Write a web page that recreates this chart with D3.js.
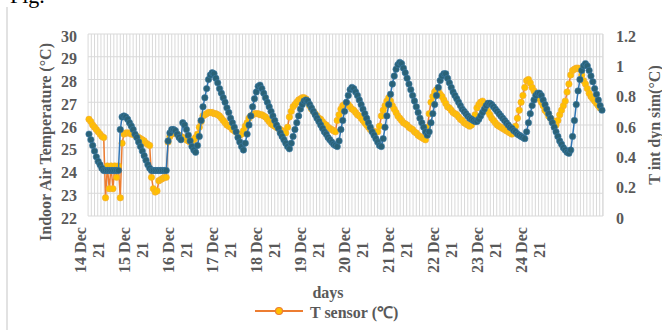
<!DOCTYPE html>
<html>
<head>
<meta charset="utf-8">
<script src="https://cdn.jsdelivr.net/npm/d3@7"></script>
<style>
  body { margin: 0; background: #fff; }
  svg { display: block; }
  text { font-family: "Liberation Serif", "Times New Roman", serif; font-weight: bold; fill: #595959; }
</style>
</head>
<body>
<div id="chart"></div>
<script>
// hourly readings, 14 Dec 00:00 onwards
const dayLabels = ["14 Dec", "15 Dec", "16 Dec", "17 Dec", "18 Dec", "19 Dec", "20 Dec", "21 Dec", "22 Dec", "23 Dec", "24 Dec"];
const yearLabel = "21";
const leftTicks = [22, 23, 24, 25, 26, 27, 28, 29, 30];
const rightTicks = [0, 0.2, 0.4, 0.6, 0.8, 1, 1.2];

// T sensor (°C), left axis
const sensor14 = [26.25,26.15,26.0,25.9,25.8,25.7,25.6,25.5,25.45,22.8,24.2,23.2,24.2,23.2,24.2,23.7,24.2,22.8,25.2,25.6,25.65,25.65,25.65,25.6];
const sensor15 = [25.6,25.55,25.5,25.45,25.4,25.35,25.3,25.2,25.15,25.1,23.7,23.2,23.05,23.1,23.55,23.6,23.65,23.7,23.7,25.25,25.5,25.6,25.65,25.65];
const sensor16 = [25.6,25.55,25.5,25.45,25.4,25.35,25.3,25.25,25.3,25.35,25.45,25.6,25.9,26.15,26.4,26.45,26.5,26.55,26.55,26.55,26.5,26.5,26.45,26.4];
const sensor17 = [26.3,26.2,26.1,26.0,25.95,25.9,25.8,25.75,25.7,25.6,25.55,25.6,25.75,25.95,26.1,26.3,26.4,26.45,26.5,26.5,26.5,26.45,26.45,26.4];
const sensor18 = [26.35,26.25,26.15,26.05,26.0,25.95,25.9,25.85,25.8,25.75,25.7,25.65,25.9,26.35,26.6,26.8,26.9,27.0,27.1,27.15,27.2,27.2,27.15,27.0];
const sensor19 = [26.85,26.7,26.6,26.5,26.4,26.3,26.25,26.15,26.05,26.0,25.9,25.85,25.8,25.75,25.7,26.2,26.45,26.7,26.85,26.9,26.95,26.9,26.8,26.7];
const sensor20 = [26.65,26.55,26.45,26.4,26.3,26.2,26.1,26.0,25.9,25.8,25.75,25.7,25.7,25.7,25.95,26.4,26.65,26.85,27.05,27.2,27.05,26.85,26.7,26.55];
const sensor21 = [26.4,26.3,26.2,26.1,26.05,26.0,25.9,25.85,25.8,25.7,25.65,25.55,25.5,25.45,25.4,25.35,25.9,26.5,27.0,27.25,27.45,27.55,27.5,27.35];
const sensor22 = [27.25,27.1,26.95,26.8,26.75,26.65,26.55,26.5,26.45,26.35,26.25,26.2,26.1,26.05,26.0,25.95,26.0,26.25,26.45,26.75,26.9,27.0,27.05,26.95];
const sensor23 = [26.8,26.6,26.45,26.3,26.2,26.1,26.0,25.95,25.9,25.85,25.8,25.75,25.7,25.65,25.6,25.7,25.95,26.3,26.65,27.0,27.3,27.65,27.95,28.0];
const sensor24 = [27.85,27.65,27.5,27.4,27.25,27.15,27.0,26.85,26.65,26.55,26.4,26.3,26.2,26.1,26.0,26.2,26.45,26.65,26.85,27.05,27.45,27.8,28.2,28.4];
const sensor25 = [28.45,28.5,28.5,28.45,28.2,27.95,27.8,27.6,27.4,27.25,27.15,27.05,26.95,26.85,26.75];

// T int dyn sim, right axis
const sim14 = [0.54,0.503,0.465,0.428,0.39,0.36,0.338,0.315,0.30,0.30,0.30,0.30,0.30,0.30,0.30,0.30,0.30,0.57,0.653,0.66,0.653,0.638,0.615,0.593];
const sim15 = [0.57,0.54,0.518,0.488,0.458,0.428,0.398,0.368,0.338,0.315,0.30,0.30,0.30,0.30,0.30,0.30,0.30,0.30,0.30,0.495,0.548,0.57,0.57,0.563];
const sim16 = [0.54,0.518,0.503,0.615,0.60,0.57,0.533,0.495,0.458,0.435,0.42,0.465,0.525,0.63,0.72,0.78,0.84,0.90,0.93,0.945,0.938,0.908,0.878,0.84];
const sim17 = [0.81,0.78,0.75,0.713,0.683,0.645,0.615,0.585,0.555,0.518,0.488,0.458,0.435,0.48,0.54,0.60,0.66,0.72,0.773,0.818,0.855,0.863,0.84,0.81];
const sim18 = [0.78,0.75,0.72,0.69,0.66,0.63,0.60,0.578,0.548,0.525,0.503,0.48,0.458,0.443,0.48,0.525,0.57,0.615,0.66,0.705,0.735,0.758,0.765,0.758];
const sim19 = [0.735,0.713,0.69,0.668,0.645,0.623,0.60,0.578,0.555,0.54,0.518,0.503,0.488,0.473,0.465,0.458,0.495,0.57,0.63,0.69,0.75,0.795,0.833,0.848];
const sim20 = [0.84,0.818,0.795,0.765,0.735,0.705,0.675,0.645,0.615,0.585,0.555,0.533,0.51,0.488,0.465,0.458,0.51,0.585,0.66,0.735,0.803,0.87,0.923,0.968];
const sim21 = [0.998,1.013,1.005,0.975,0.945,0.908,0.87,0.833,0.795,0.758,0.72,0.683,0.645,0.615,0.585,0.555,0.533,0.555,0.615,0.675,0.735,0.795,0.848,0.893];
const sim22 = [0.923,0.938,0.938,0.908,0.878,0.848,0.818,0.795,0.773,0.75,0.728,0.705,0.69,0.675,0.66,0.645,0.638,0.63,0.623,0.623,0.638,0.66,0.683,0.705];
const sim23 = [0.728,0.743,0.743,0.735,0.72,0.705,0.69,0.675,0.66,0.645,0.63,0.615,0.60,0.585,0.578,0.563,0.555,0.54,0.533,0.525,0.518,0.51,0.555,0.615];
const sim24 = [0.675,0.728,0.765,0.795,0.81,0.81,0.795,0.765,0.735,0.705,0.675,0.645,0.615,0.585,0.555,0.525,0.495,0.473,0.45,0.435,0.42,0.413,0.435,0.525];
const sim25 = [0.63,0.735,0.825,0.90,0.96,0.99,1.005,0.99,0.96,0.923,0.885,0.84,0.803,0.765,0.728,0.698];

const sensor = [].concat(sensor14, sensor15, sensor16, sensor17, sensor18, sensor19, sensor20, sensor21, sensor22, sensor23, sensor24, sensor25);
const sim = [].concat(sim14, sim15, sim16, sim17, sim18, sim19, sim20, sim21, sim22, sim23, sim24, sim25);

const W = 662, H = 330;
const plotLeft = 89, plotRight = 602, plotTop = 34, plotBottom = 216;

const svg = d3.select("#chart").append("svg")
    .attr("width", W)
    .attr("height", H);

// outer chart border (only the left edge is in frame)
svg.append("line")
    .attr("x1", 7).attr("x2", 7).attr("y1", 7).attr("y2", H)
    .attr("stroke", "#d9d9d9").attr("stroke-width", 1.5);

// caption fragment above the chart
svg.append("text")
    .attr("x", 10).attr("y", 3)
    .style("fill", "#000").style("font-weight", "normal").style("font-size", "22px")
    .text("Fig.");

const x = d3.scaleLinear().domain([0, sim.length - 1]).range([plotLeft, plotRight]);
const yL = d3.scaleLinear().domain([22, 30]).range([plotBottom, plotTop]);
const yR = d3.scaleLinear().domain([0, 1.2]).range([plotBottom, plotTop]);

// gridlines
const grid = svg.append("g").attr("stroke", "#d9d9d9").attr("stroke-width", 1);
grid.selectAll(".vg")
    .data(d3.range(-0.5, sim.length + 0.5, 1.75))
    .enter().append("line")
    .attr("x1", d => x(d)).attr("x2", d => x(d))
    .attr("y1", plotTop).attr("y2", plotBottom);
grid.selectAll(".hg")
    .data(leftTicks)
    .enter().append("line")
    .attr("x1", x(-0.5)).attr("x2", x(sim.length - 0.5))
    .attr("y1", d => yL(d)).attr("y2", d => yL(d));
grid.append("line")
    .attr("x1", x(sim.length - 0.5)).attr("x2", x(sim.length - 0.5))
    .attr("y1", plotTop).attr("y2", plotBottom);

// left axis
const axL = svg.append("g")
    .attr("transform", `translate(${plotLeft - 1},0)`)
    .call(d3.axisLeft(yL).tickValues(leftTicks).tickSize(0).tickPadding(11).tickFormat(d => d));
axL.select(".domain").remove();
axL.selectAll("text").style("font-size", "16px").attr("dy", "0.45em");

// right axis
const axR = svg.append("g")
    .attr("transform", `translate(${plotRight + 1},0)`)
    .call(d3.axisRight(yR).tickValues(rightTicks).tickSize(0).tickPadding(13).tickFormat(d => String(d)));
axR.select(".domain").remove();
axR.selectAll("text").style("font-size", "16px").attr("dy", "0.45em");

// x axis: one label per day, rotated, two lines
const axX = svg.append("g")
    .attr("transform", `translate(0,${plotBottom})`)
    .call(d3.axisBottom(x).tickValues(dayLabels.map((d, i) => i * 24)).tickSize(0).tickFormat(""));
axX.select(".domain").remove();
axX.selectAll(".tick").each(function (d, i) {
    const t = d3.select(this).select("text")
        .attr("y", null).attr("dy", null)
        .attr("transform", "translate(0,34) rotate(-90)")
        .attr("text-anchor", "middle")
        .style("font-size", "16px");
    t.append("tspan").attr("x", 0).attr("y", -4).text(dayLabels[i]);
    t.append("tspan").attr("x", 0).attr("y", 14).text(yearLabel);
});

// axis titles
svg.append("text")
    .attr("transform", "translate(51,142) rotate(-90)")
    .attr("text-anchor", "middle")
    .style("font-size", "16px")
    .text("Indoor Air Temperature (°C)");
svg.append("text")
    .attr("transform", "translate(660,125) rotate(-90)")
    .attr("text-anchor", "middle")
    .style("font-size", "16px")
    .text("T int dyn sim(°C)");
svg.append("text")
    .attr("x", 328).attr("y", 298)
    .attr("text-anchor", "middle")
    .style("font-size", "16px")
    .text("days");

// T sensor series
const lineL = d3.line().x((d, i) => x(i)).y(d => yL(d));
svg.append("path")
    .datum(sensor)
    .attr("d", lineL)
    .attr("fill", "none")
    .attr("stroke", "#ed7d31")
    .attr("stroke-width", 1.5);
svg.append("g").selectAll("circle")
    .data(sensor)
    .enter().append("circle")
    .attr("cx", (d, i) => x(i))
    .attr("cy", d => yL(d))
    .attr("r", 3.2)
    .attr("fill", "#ffc000")
    .attr("stroke", "#f2a93b")
    .attr("stroke-width", 0.6);

// T int dyn sim series
const lineR = d3.line().x((d, i) => x(i)).y(d => yR(d));
svg.append("path")
    .datum(sim)
    .attr("d", lineR)
    .attr("fill", "none")
    .attr("stroke", "#2e75b6")
    .attr("stroke-width", 1.5);
svg.append("g").selectAll("circle")
    .data(sim)
    .enter().append("circle")
    .attr("cx", (d, i) => x(i))
    .attr("cy", d => yR(d))
    .attr("r", 3.2)
    .attr("fill", "#2a6277")
    .attr("stroke", "#3b7ba8")
    .attr("stroke-width", 0.6);

// legend
const lg = svg.append("g");
lg.append("line")
    .attr("x1", 255).attr("x2", 303).attr("y1", 311).attr("y2", 311)
    .attr("stroke", "#ed7d31").attr("stroke-width", 2);
lg.append("circle")
    .attr("cx", 279).attr("cy", 311).attr("r", 3.5)
    .attr("fill", "#ffc000").attr("stroke", "#ed7d31").attr("stroke-width", 1.2);
lg.append("text")
    .attr("x", 310).attr("y", 318)
    .style("font-size", "16px")
    .text("T sensor (℃)");
</script>
</body>
</html>
